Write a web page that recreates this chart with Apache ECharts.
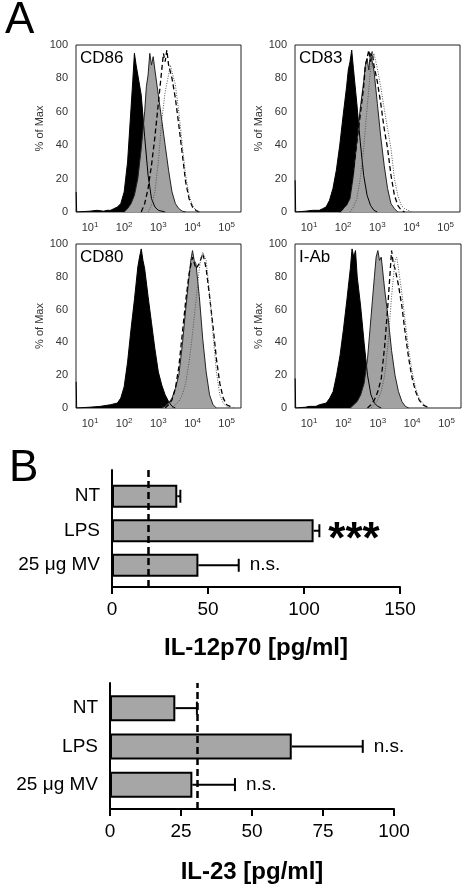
<!DOCTYPE html>
<html><head><meta charset="utf-8">
<script src="https://cdn.jsdelivr.net/npm/echarts@6/dist/echarts.min.js"></script>
<style>html,body{margin:0;padding:0;background:#fff}#c{width:470px;height:889px}</style>
</head><body><div id="c"></div>
<script>
// ---------- DATA ----------
// Histograms: [log10 fluorescence, % of Max]
const panelNames = ['CD86', 'CD83', 'CD80', 'I-Ab'];
const xTicks = [1, 2, 3, 4, 5]; // decades, labels 10^n

const cd86Black = [[0.595,12],[0.61,0],[1.0,0.5],[1.2,1],[1.4,0.5],[1.5,1],[1.6,1],[1.7,2],[1.8,3],[1.9,5],[2.0,12],[2.1,30],[2.2,62],[2.25,78],[2.3,95],[2.35,88],[2.4,82],[2.5,70],[2.6,45],[2.7,22],[2.8,8],[2.9,3],[3.0,1],[3.2,0]];
const cd86Gray = [[2.0,0],[2.1,2],[2.2,5],[2.3,10],[2.4,20],[2.5,38],[2.6,60],[2.65,75],[2.7,82],[2.75,95],[2.8,88],[2.85,93],[2.9,85],[3.0,70],[3.1,55],[3.2,40],[3.3,25],[3.4,12],[3.5,5],[3.6,2],[3.7,0.5],[3.8,0]];
const cd86Dash = [[2.5,0],[2.6,5],[2.7,14],[2.8,28],[2.9,45],[3.0,65],[3.1,85],[3.15,95],[3.2,90],[3.25,97],[3.3,88],[3.4,80],[3.5,68],[3.6,52],[3.7,35],[3.8,18],[3.9,8],[4.0,3],[4.1,1],[4.2,0]];
const cd86Dot = [[2.7,0],[2.8,4],[2.9,12],[3.0,30],[3.1,55],[3.2,72],[3.3,82],[3.35,88],[3.4,84],[3.5,76],[3.6,60],[3.7,40],[3.8,22],[3.9,10],[4.0,4],[4.1,1],[4.2,0]];

const cd83Black = [[0.595,19],[0.61,0],[0.9,0.5],[1.1,1],[1.3,1],[1.4,2],[1.5,3],[1.6,7],[1.7,14],[1.8,25],[1.9,40],[2.0,58],[2.1,75],[2.15,85],[2.2,90],[2.25,97],[2.3,86],[2.4,65],[2.5,42],[2.6,22],[2.7,10],[2.8,4],[2.9,1],[3.0,0]];
const cd83Gray = [[1.9,0],[2.0,2],[2.1,4],[2.2,8],[2.3,22],[2.4,42],[2.5,62],[2.6,78],[2.65,88],[2.7,92],[2.75,85],[2.8,95],[2.9,85],[3.0,65],[3.1,45],[3.2,28],[3.3,14],[3.4,5],[3.5,2],[3.6,0]];
const cd83Dash = [[1.9,0],[2.0,2],[2.1,5],[2.2,12],[2.3,25],[2.4,42],[2.5,58],[2.6,75],[2.65,88],[2.7,92],[2.75,97],[2.8,90],[2.85,96],[2.9,88],[3.0,78],[3.1,65],[3.2,50],[3.3,38],[3.4,22],[3.5,10],[3.6,4],[3.7,1],[3.8,0]];
const cd83Dot = [[2.2,0],[2.3,3],[2.4,8],[2.5,20],[2.6,38],[2.7,62],[2.8,85],[2.85,92],[2.9,95],[3.0,86],[3.1,75],[3.2,62],[3.3,50],[3.4,38],[3.5,20],[3.6,10],[3.7,4],[3.8,2],[3.9,1],[4.0,0]];

const cd80Black = [[0.595,16],[0.61,0],[1.0,0.5],[1.3,1],[1.6,2],[1.8,3],[1.9,6],[2.0,13],[2.1,28],[2.2,48],[2.3,66],[2.4,86],[2.45,92],[2.5,97],[2.55,90],[2.6,85],[2.7,68],[2.8,52],[2.9,36],[3.0,22],[3.1,14],[3.2,8],[3.3,4],[3.4,1],[3.5,0]];
const cd80Gray = [[3.1,0],[3.2,1],[3.3,3],[3.4,6],[3.5,12],[3.6,20],[3.7,38],[3.8,60],[3.9,80],[3.95,90],[4.0,96],[4.05,90],[4.1,88],[4.2,68],[4.3,42],[4.4,22],[4.5,8],[4.6,2],[4.7,0]];
const cd80Dash = [[3.2,0],[3.3,2],[3.4,5],[3.5,12],[3.6,25],[3.7,45],[3.8,65],[3.9,82],[4.0,92],[4.1,85],[4.2,88],[4.3,94],[4.35,90],[4.4,85],[4.5,68],[4.6,50],[4.7,30],[4.8,15],[4.9,6],[5.0,2],[5.1,1],[5.2,0]];
const cd80Dot = [[3.4,0],[3.5,2],[3.6,4],[3.7,8],[3.8,15],[3.9,28],[4.0,45],[4.1,65],[4.2,85],[4.25,92],[4.3,95],[4.4,90],[4.5,70],[4.6,45],[4.7,22],[4.8,8],[4.9,3],[5.0,1],[5.1,0]];

const iabBlack = [[0.595,18],[0.61,0],[0.9,0.5],[1.0,1],[1.2,1],[1.3,2],[1.5,3],[1.6,6],[1.7,10],[1.8,20],[1.9,32],[2.0,48],[2.1,66],[2.2,85],[2.25,97],[2.3,92],[2.35,96],[2.4,80],[2.5,62],[2.6,40],[2.7,20],[2.8,8],[2.9,3],[3.0,1],[3.1,0]];
const iabGray = [[2.2,0],[2.3,2],[2.4,4],[2.5,8],[2.6,15],[2.7,30],[2.8,55],[2.9,80],[2.95,92],[3.0,96],[3.05,90],[3.1,92],[3.2,72],[3.3,55],[3.4,35],[3.5,20],[3.6,10],[3.7,4],[3.8,1],[3.9,0]];
const iabDash = [[2.7,0],[2.8,2],[2.9,5],[3.0,10],[3.1,18],[3.2,38],[3.3,65],[3.4,96],[3.45,88],[3.5,85],[3.6,75],[3.7,62],[3.8,45],[3.9,30],[4.0,18],[4.1,10],[4.2,5],[4.3,2],[4.4,1],[4.5,0]];
const iabDot = [[2.8,0],[2.9,2],[3.0,5],[3.1,10],[3.2,20],[3.3,40],[3.4,68],[3.5,90],[3.55,92],[3.6,85],[3.7,70],[3.8,52],[3.9,35],[4.0,22],[4.1,12],[4.2,6],[4.3,3],[4.4,1],[4.5,0]];

// Bar charts
const categories = ['NT', 'LPS', '25 \u03BCg MV'];
const il12Mean = [34, 105, 45];
const il12Err = [1.6, 3, 21];
const il12Sig = ['', '***', 'n.s.'];
const il12Ref = 19;
const il12Ticks = [0, 50, 100, 150];

const il23Mean = [23, 64, 29];
const il23Err = [7.6, 25, 15];
const il23Sig = ['', 'n.s.', 'n.s.'];
const il23Ref = 30.7;
const il23Ticks = [0, 25, 50, 75, 100];

// ---------- CHART ----------
const FONT = 'Liberation Sans, Arial, sans-serif';
const chart = echarts.init(document.getElementById('c'), null, {renderer: 'canvas'});

const histCurves = [
  [cd86Black, cd86Gray, cd86Dash, cd86Dot],
  [cd83Black, cd83Gray, cd83Dash, cd83Dot],
  [cd80Black, cd80Gray, cd80Dash, cd80Dot],
  [iabBlack, iabGray, iabDash, iabDot]
];
const histRects = [
  {left: 76, top: 45, width: 165, height: 167},
  {left: 295, top: 45, width: 165, height: 167},
  {left: 76, top: 244, width: 165, height: 164},
  {left: 295, top: 244, width: 166, height: 164}
];

const grids = [], xAxes = [], yAxes = [], series = [], graphics = [];

histRects.forEach((r, i) => {
  grids.push(Object.assign({show: true, borderColor: '#222', borderWidth: 1, backgroundColor: 'transparent'}, r));
  xAxes.push({
    type: 'value', gridIndex: i, min: 0.59, max: 5.42,
    axisLine: {show: false}, axisTick: {show: false}, splitLine: {show: false},
    axisLabel: {
      showMinLabel: false, showMaxLabel: false, margin: 9,
      formatter: v => xTicks.indexOf(v) >= 0 ? '{b|10}{s|' + v + '}' : '',
      rich: {
        b: {fontSize: 11, fontFamily: FONT, color: '#333', lineHeight: 14},
        s: {fontSize: 8, fontFamily: FONT, color: '#333', verticalAlign: 'top', lineHeight: 9}
      }
    }
  });
  yAxes.push({
    type: 'value', gridIndex: i, min: 0, max: 100, interval: 20,
    name: '% of Max', nameLocation: 'middle', nameGap: 31, nameRotate: 90,
    nameTextStyle: {fontSize: 11, fontFamily: FONT, color: '#333'},
    axisLine: {show: false}, axisTick: {show: false}, splitLine: {show: false},
    axisLabel: {fontSize: 11, fontFamily: FONT, color: '#333', margin: 8}
  });
  const c = histCurves[i];
  series.push({type: 'line', xAxisIndex: i, yAxisIndex: i, data: c[0], symbol: 'none', silent: true,
    lineStyle: {color: '#000', width: 1}, areaStyle: {color: '#000', opacity: 1}});
  series.push({type: 'line', xAxisIndex: i, yAxisIndex: i, data: c[1], symbol: 'none', silent: true,
    lineStyle: {color: '#222', width: 1}, areaStyle: {color: '#a2a2a2', opacity: 1}});
  series.push({type: 'line', xAxisIndex: i, yAxisIndex: i, data: c[2], symbol: 'none', silent: true,
    lineStyle: {color: '#000', width: 1.3, type: [5, 3]}});
  series.push({type: 'line', xAxisIndex: i, yAxisIndex: i, data: c[3], symbol: 'none', silent: true,
    lineStyle: {color: '#555', width: 1, type: [1, 1.5]}});
  graphics.push({type: 'text', left: r.left + 4, top: r.top + 5,
    style: {text: panelNames[i], font: '17px ' + FONT, fill: '#000'}});
});

graphics.push({type: 'text', left: 5, top: -1, style: {text: 'A', font: '44px ' + FONT, fill: '#000'}});
graphics.push({type: 'text', left: 9, top: 447, style: {text: 'B', font: '44px ' + FONT, fill: '#000'}});

function errRender(errArr, sigArr, capHalf) {
  return function (params, api) {
    const i = params.dataIndex;
    const m = api.value(0), c = api.value(1);
    const p0 = api.coord([m, c]);
    const p1 = api.coord([m + errArr[i], c]);
    const ch = [
      {type: 'line', shape: {x1: p0[0], y1: p0[1], x2: p1[0], y2: p1[1]}, style: {stroke: '#000', lineWidth: 2}},
      {type: 'line', shape: {x1: p1[0], y1: p1[1] - capHalf, x2: p1[0], y2: p1[1] + capHalf}, style: {stroke: '#000', lineWidth: 2}}
    ];
    const s = sigArr[i];
    if (s) {
      const star = s === '***';
      ch.push({type: 'text', style: {
        text: s, x: p1[0] + (star ? 9 : 11), y: p1[1] + (star ? 10 : 0),
        fill: '#000', fontSize: star ? 44 : 19, fontWeight: star ? 'bold' : 'normal', fontFamily: FONT,
        align: 'left', verticalAlign: 'middle'}});
    }
    return {type: 'group', children: ch};
  };
}

function addBarChart(axesRect, barRect, max, interval, title, nameGap, mean, err, sig, ref, barW) {
  const ga = grids.length;
  grids.push(axesRect);
  xAxes.push({type: 'value', gridIndex: ga, min: 0, max: max, interval: interval,
    name: title, nameLocation: 'middle', nameGap: nameGap,
    nameTextStyle: {fontSize: 24, fontWeight: 'bold', fontFamily: FONT, color: '#000'},
    axisLine: {show: true, lineStyle: {color: '#000', width: 2}},
    axisTick: {show: true, length: 7, lineStyle: {color: '#000', width: 2}},
    splitLine: {show: false},
    axisLabel: {fontSize: 19, fontFamily: FONT, color: '#000', margin: 13}});
  yAxes.push({type: 'value', gridIndex: ga, min: 0, max: 1, show: true,
    axisLine: {show: true, onZero: false, lineStyle: {color: '#000', width: 2}},
    axisTick: {show: false}, axisLabel: {show: false}, splitLine: {show: false}});
  series.push({type: 'line', xAxisIndex: ga, yAxisIndex: ga, data: [], silent: true,
    markLine: {symbol: 'none', silent: true, label: {show: false},
      lineStyle: {color: '#000', width: 2.5, type: [7, 4]},
      data: [{xAxis: ref}]}});
  const gb = grids.length;
  grids.push(barRect);
  xAxes.push({type: 'value', gridIndex: gb, min: 0, max: max, show: false});
  yAxes.push({type: 'category', gridIndex: gb, data: categories, inverse: true,
    axisLine: {show: false}, axisTick: {show: false},
    axisLabel: {fontSize: 19, fontFamily: FONT, color: '#000', margin: 12}});
  series.push({type: 'bar', xAxisIndex: gb, yAxisIndex: gb, data: mean, barWidth: barW, silent: true,
    itemStyle: {color: '#a6a6a6', borderColor: '#000', borderWidth: 2}});
  series.push({type: 'custom', xAxisIndex: gb, yAxisIndex: gb, silent: true, z: 5,
    data: mean.map((v, i) => [v, i]),
    renderItem: errRender(err, sig, 6.5)});
}

addBarChart({left: 112, top: 470, width: 288, height: 117},
            {left: 112, top: 479, width: 288, height: 103.5},
            150, 50, 'IL-12p70 [pg/ml]', 49, il12Mean, il12Err, il12Sig, il12Ref, 23);
addBarChart({left: 110, top: 683, width: 284, height: 126},
            {left: 110, top: 689, width: 284, height: 114.75},
            100, 25, 'IL-23 [pg/ml]', 51, il23Mean, il23Err, il23Sig, il23Ref, 26);

chart.setOption({
  animation: false,
  backgroundColor: '#fff',
  grid: grids, xAxis: xAxes, yAxis: yAxes, series: series, graphic: graphics
});
</script></body></html>
